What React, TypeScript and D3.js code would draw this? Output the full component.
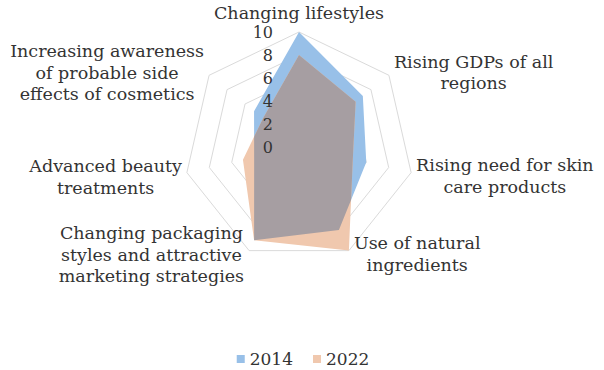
import React, { useEffect, useRef } from "react";
import * as d3 from "d3";

const labelLines: string[][] = [
  ["Changing lifestyles"],
  ["Rising GDPs of all", "regions"],
  ["Rising need for skin", "care products"],
  ["Use of natural", "ingredients"],
  ["Changing packaging", "styles and attractive", "marketing strategies"],
  ["Advanced beauty", "treatments"],
  ["Increasing awareness", "of probable side", "effects of cosmetics"],
];
const values2014 = [10, 7.1, 6, 8, 9, 4, 5];
const values2022 = [8, 6.3, 4.8, 10, 9, 5, 4];
const seriesNames = ["2014", "2022"];
const tickValues = [0, 2, 4, 6, 8, 10];
const gridLevels = [2, 4, 6, 8, 10];

const W = 604;
const H = 370;
const CX = 299;
const CY = 147;
const R = 115;
const FONT = "'DejaVu Serif', serif";
const TEXT = "#333333";
const BLUE = "#98c0e8";
const ORANGE = "#f0c8ae";
const OVERLAP = "#a69ea2";
const GRID = "#dadada";

export default function App() {
  const ref = useRef<SVGSVGElement>(null);

  useEffect(() => {
    const svg = d3.select(ref.current);
    svg.selectAll("*").remove();
    const n = labelLines.length;
    const angle = d3
      .scalePoint<number>()
      .domain(d3.range(n + 1))
      .range([0, 2 * Math.PI]);
    const r = d3.scaleLinear().domain([0, 10]).range([0, R]);
    const pt = (i: number, v: number): [number, number] => {
      const a = angle(i)!;
      return [CX + r(v) * Math.sin(a), CY - r(v) * Math.cos(a)];
    };
    const radial = d3
      .lineRadial<number>()
      .angle((_, i) => angle(i)!)
      .radius((d) => r(d))
      .curve(d3.curveLinearClosed);

    const g = svg.append("g").attr("transform", `translate(${CX},${CY})`);

    g.selectAll("path.grid")
      .data(gridLevels)
      .join("path")
      .attr("class", "grid")
      .attr("d", (lv) => radial(d3.range(n).map(() => lv)))
      .attr("fill", "none")
      .attr("stroke", GRID)
      .attr("stroke-width", 1);

    const defs = svg.append("defs");
    defs
      .append("clipPath")
      .attr("id", "clip2022")
      .append("path")
      .attr("transform", `translate(${CX},${CY})`)
      .attr("d", radial(values2022));

    g.append("path").attr("d", radial(values2014)).attr("fill", BLUE);
    g.append("path").attr("d", radial(values2022)).attr("fill", ORANGE);
    svg
      .append("g")
      .attr("clip-path", "url(#clip2022)")
      .append("path")
      .attr("transform", `translate(${CX},${CY})`)
      .attr("d", radial(values2014))
      .attr("fill", OVERLAP);

    svg
      .selectAll("text.tick")
      .data(tickValues)
      .join("text")
      .attr("class", "tick")
      .attr("x", CX - 26)
      .attr("y", (v) => CY - r(v))
      .attr("dy", "0.38em")
      .attr("text-anchor", "end")
      .attr("font-family", FONT)
      .attr("font-size", 16)
      .attr("fill", TEXT)
      .text((v) => String(v));

    const lh = 21.5;
    const fs = 17.5;
    labelLines.forEach((lines, i) => {
      const a = angle(i)!;
      const [vx, vy] = pt(i, 10);
      const s = Math.sin(a);
      const t = svg
        .append("text")
        .attr("font-family", FONT)
        .attr("font-size", fs)
        .attr("fill", TEXT)
        .attr("text-anchor", "middle");
      lines.forEach((ln) => t.append("tspan").text(ln));
      const widths: number[] = [];
      t.selectAll<SVGTSpanElement, unknown>("tspan").each(function () {
        widths.push(this.getComputedTextLength());
      });
      const bw = d3.max(widths) || 0;
      const gap = 5;
      let cx: number;
      let cy: number;
      if (Math.abs(s) < 0.1) {
        cx = vx;
        cy = vy - 19;
      } else if (s > 0) {
        cx = vx + gap + bw / 2;
        cy = vy + (Math.cos(a) < 0 ? 3 : -3);
      } else {
        cx = vx - gap - bw / 2;
        cy = vy + (Math.cos(a) < 0 ? 4 : -3);
      }
      const top = cy - ((lines.length - 1) * lh) / 2;
      t.selectAll("tspan")
        .attr("x", cx)
        .attr("y", (_, k) => top + k * lh)
        .attr("dy", "0.36em");
    });

    const lg = svg.append("g");
    const colors = [BLUE, ORANGE];
    const items = lg.selectAll("g").data(seriesNames).join("g");
    items
      .append("rect")
      .attr("width", 8)
      .attr("height", 8)
      .attr("y", -7)
      .attr("fill", (_, i) => colors[i]);
    items
      .append("text")
      .attr("x", 13)
      .attr("y", 0)
      .attr("dy", "0.2em")
      .attr("font-family", FONT)
      .attr("font-size", 17)
      .attr("fill", TEXT)
      .text((d) => d);
    let x = 0;
    const xs: number[] = [];
    items.each(function () {
      const tw = (d3.select(this).select("text").node() as SVGTextElement).getComputedTextLength();
      xs.push(x);
      x += 13 + tw + 20;
    });
    const total = x - 20;
    const lx0 = 303 - total / 2;
    items.attr("transform", (_, i) => `translate(${lx0 + xs[i]},${362})`);
  }, []);

  return (
    <svg
      ref={ref}
      width={W}
      height={H}
      style={{ position: "absolute", left: 0, top: 0, background: "#fff" }}
    />
  );
}
